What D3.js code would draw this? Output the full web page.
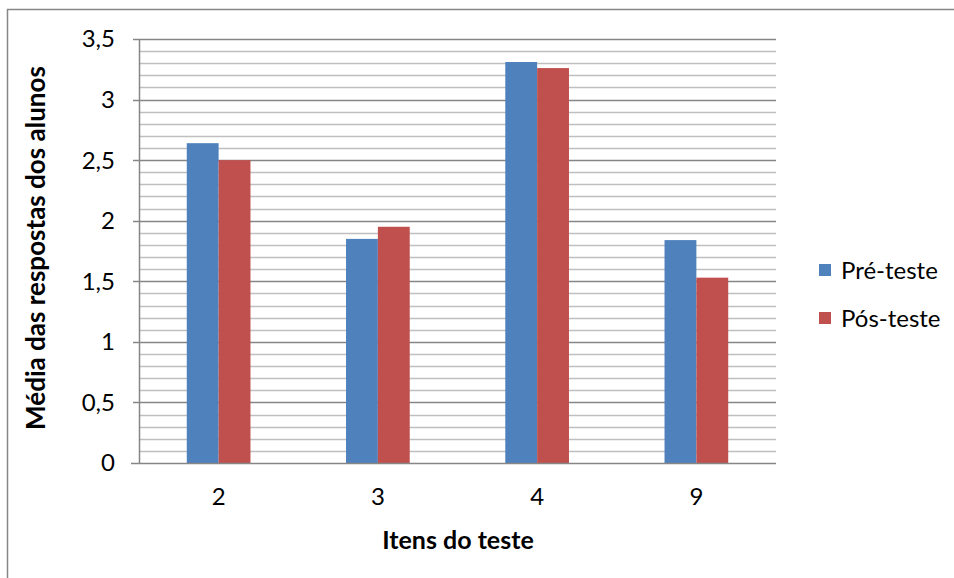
<!DOCTYPE html>
<html><head><meta charset="utf-8">
<script src="https://cdn.jsdelivr.net/npm/d3@7"></script>
<style>body{margin:0;background:#fff}svg{display:block}text{font-family:Lato,"Open Sans",sans-serif}</style>
</head><body>
<svg id="c" width="954" height="578"></svg>
<script>
const categories = ["2","3","4","9"];
const seriesNames = ["Pré-teste","Pós-teste"];
const preTeste = [2.64, 1.85, 3.31, 1.84];
const posTeste = [2.50, 1.95, 3.26, 1.53];
const yTicks = [0,0.5,1,1.5,2,2.5,3,3.5];
const colors = ["#4F81BD","#C0504D"];

const svg = d3.select("#c");
const m = {l:139, r:776, t:39, b:463};
svg.append("rect").attr("x",7.5).attr("y",9.5).attr("width",1000).attr("height",1000)
  .attr("fill","#fff").attr("stroke","#868686").attr("stroke-width",1.5);

const x = d3.scaleBand().domain(categories).range([m.l,m.r]).paddingInner(0.6).paddingOuter(0.3);
const xs = d3.scaleBand().domain([0,1]).range([0,x.bandwidth()]);
const y = d3.scaleLinear().domain([0,3.5]).range([m.b,m.t]);

// minor grid
const minor = d3.range(1,35).map(i=>i/10).filter(v=>Math.abs(v*2-Math.round(v*2))>1e-6);
svg.append("g").selectAll("line").data(minor).join("line")
  .attr("x1",m.l).attr("x2",m.r).attr("y1",d=>Math.round(y(d))+0.5).attr("y2",d=>Math.round(y(d))+0.5)
  .attr("stroke","#bfbfbf").attr("stroke-width",1.5);
svg.append("g").selectAll("line").data(yTicks.filter(d=>d>0)).join("line")
  .attr("x1",m.l-6).attr("x2",m.r).attr("y1",d=>Math.round(y(d))+0.5).attr("y2",d=>Math.round(y(d))+0.5)
  .attr("stroke","#868686").attr("stroke-width",1.5);

// bars
const data = categories.map((c,i)=>({c, v:[preTeste[i], posTeste[i]]}));
const g = svg.append("g").selectAll("g").data(data).join("g").attr("transform",d=>`translate(${x(d.c)},0)`);
g.selectAll("rect").data(d=>d.v.map((v,k)=>({v,k}))).join("rect")
  .attr("x",d=>xs(d.k)).attr("width",xs.bandwidth())
  .attr("y",d=>y(d.v)).attr("height",d=>y(0)-y(d.v))
  .attr("fill",d=>colors[d.k]);

// axes lines
svg.append("line").attr("x1",m.l+0.5).attr("x2",m.l+0.5).attr("y1",m.t).attr("y2",m.b).attr("stroke","#868686").attr("stroke-width",1.5);
svg.append("line").attr("x1",m.l-8).attr("x2",m.r).attr("y1",m.b+0.5).attr("y2",m.b+0.5).attr("stroke","#868686").attr("stroke-width",1.5);

// y tick labels
svg.append("g").selectAll("text").data(yTicks).join("text")
  .attr("x",115).attr("y",d=>y(d)).attr("dy","0.35em").attr("text-anchor","end")
  .attr("font-size",24).attr("fill","#000")
  .text(d=>d3.format("")(d).replace(".",","));
// x tick labels
svg.append("g").selectAll("text").data(categories).join("text")
  .attr("x",d=>x(d)+x.bandwidth()/2).attr("y",497).attr("dy","0.35em").attr("text-anchor","middle")
  .attr("font-size",24).text(d=>d);

// titles
svg.append("text").attr("x",458).attr("y",540).attr("dy","0.35em").attr("text-anchor","middle")
  .attr("font-size",25).attr("font-weight","bold").text("Itens do teste");
svg.append("text").attr("transform","translate(36,248) rotate(-90)").attr("dy","0.35em").attr("text-anchor","middle")
  .attr("font-size",26).attr("font-weight","bold").text("Média das respostas dos alunos");

// legend
const lg = svg.append("g").selectAll("g").data(seriesNames).join("g")
  .attr("transform",(d,i)=>`translate(819,${264+i*48})`);
lg.append("rect").attr("width",12).attr("height",12).attr("fill",(d,i)=>colors[i]);
lg.append("text").attr("x",22).attr("y",7).attr("dy","0.35em").attr("font-size",24).text(d=>d);
</script>
</body></html>
